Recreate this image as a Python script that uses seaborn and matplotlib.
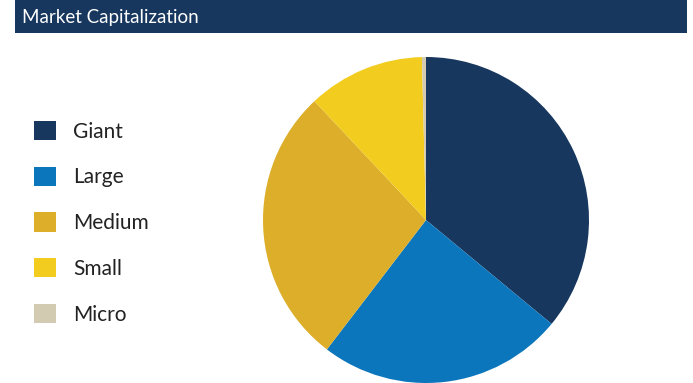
import matplotlib
matplotlib.use("Agg")
import matplotlib.pyplot as plt
import seaborn as sns
from matplotlib.patches import Rectangle

# Market cap breakdown (% of portfolio)
categories = ["Giant", "Large", "Medium", "Small", "Micro"]
shares = [36.0, 24.4, 27.6, 11.6, 0.4]
colors = ["#17375E", "#0B76BC", "#DCAE29", "#F2CD1F", "#D3CBB1"]

sns.set_theme(style="white")
plt.rcParams["font.family"] = ["Lato", "DejaVu Sans"]

W, H = 693, 383
fig = plt.figure(figsize=(W / 100, H / 100), dpi=100)

# title bar
fig.patches.append(Rectangle((15 / W, 1 - 33 / H), 672 / W, 33 / H,
                             transform=fig.transFigure, facecolor="#17375E",
                             edgecolor="none", zorder=0))
fig.text(22 / W, 1 - 17 / H, "Market Capitalization", color="white",
         fontsize=13.5, va="center", ha="left")

# pie: centre (426, 220), radius 163 px
cx, cy, r = 426, 220, 163
ax = fig.add_axes([(cx - r) / W, (H - cy - r) / H, 2 * r / W, 2 * r / H])
wedges, _ = ax.pie(shares, colors=sns.color_palette(colors), startangle=90,
                   counterclock=False, radius=1,
                   wedgeprops={"linewidth": 0, "antialiased": True})
ax.set_xlim(-1, 1)
ax.set_ylim(-1, 1)
ax.set_aspect("equal")
ax.axis("off")

leg = fig.legend(wedges, categories, loc="upper left",
                 bbox_to_anchor=(15 / W, 1 - 102 / H), frameon=False,
                 fontsize=15, handlelength=1.05, handleheight=1.05,
                 handletextpad=0.85, labelspacing=1.2)
for t in leg.get_texts():
    t.set_color("#222222")

fig.savefig("out.png", dpi=100)
